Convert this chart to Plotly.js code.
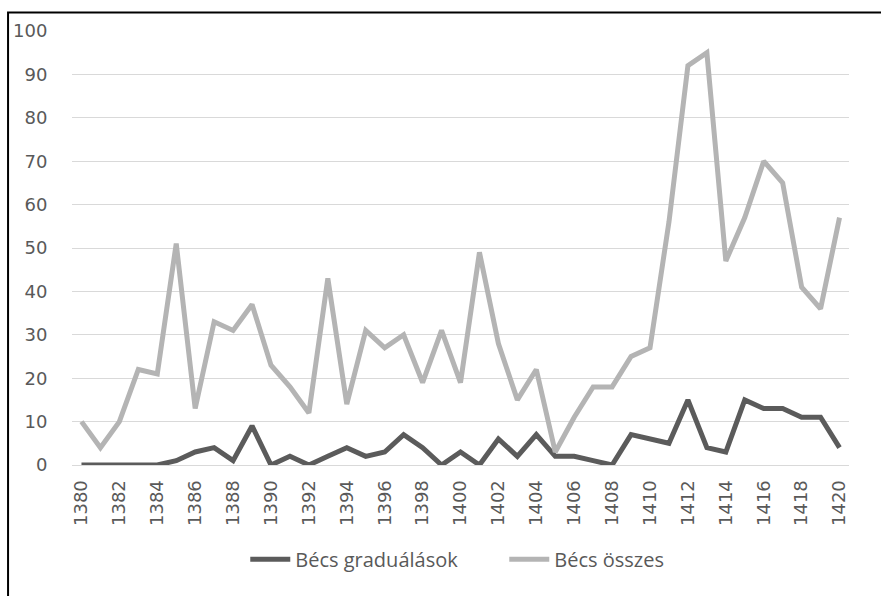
<!DOCTYPE html>
<html>
<head>
<meta charset="utf-8">
<script src="https://cdn.plot.ly/plotly-3.0.1.min.js"></script>
<style>html,body{margin:0;padding:0;background:#fff;}#chart{width:881px;height:596px;}</style>
</head>
<body>
<div id="chart"></div>
<script>
const years = [1380,1381,1382,1383,1384,1385,1386,1387,1388,1389,1390,1391,1392,1393,1394,1395,1396,1397,1398,1399,1400,1401,1402,1403,1404,1405,1406,1407,1408,1409,1410,1411,1412,1413,1414,1415,1416,1417,1418,1419,1420];
const graduations = [0,0,0,0,0,1,3,4,1,9,0,2,0,2,4,2,3,7,4,0,3,0,6,2,7,2,2,1,0,7,6,5,15,4,3,15,13,13,11,11,4];
const totals = [10,4,10,22,21,51,13,33,31,37,23,18,12,43,14,31,27,30,19,31,19,49,28,15,22,3,11,18,18,25,27,56,92,95,47,57,70,65,41,36,57];
const seriesNames = ['Bécs graduálások','Bécs összes'];
const tickYears = years.filter(y => y % 2 === 0);

const traces = [
  {x: years, y: graduations, name: seriesNames[0], type: 'scatter', mode: 'lines',
   line: {color: '#5b5b5b', width: 5, shape: 'linear'}},
  {x: years, y: totals, name: seriesNames[1], type: 'scatter', mode: 'lines',
   line: {color: '#b4b4b4', width: 5}}
];

const layout = {
  width: 881, height: 596,
  margin: {l: 71.5, r: 31.5, t: 31, b: 131},
  paper_bgcolor: '#ffffff', plot_bgcolor: '#ffffff',
  showlegend: true,
  legend: {orientation: 'h', x: 0.2230, xanchor: 'left', y: -0.217, yanchor: 'middle',
    entrywidth: 204, entrywidthmode: 'pixels',
    font: {family: 'Open Sans, sans-serif', size: 20, color: '#595959'}, itemwidth: 40, tracegroupgap: 0},
  xaxis: {
    range: [1379.5, 1420.5], tickmode: 'array', tickvals: tickYears, ticktext: tickYears.map(String),
    tickangle: -90, showgrid: false, zeroline: false, showline: true, linecolor: '#d9d9d9', linewidth: 1,
    ticks: 'outside', ticklen: 7, tickcolor: 'rgba(0,0,0,0)',
    tickfont: {family: 'DejaVu Sans, sans-serif', size: 18, color: '#595959'}
  },
  yaxis: {
    range: [0, 100], tickmode: 'array', tickvals: [0,10,20,30,40,50,60,70,80,90,100],
    showgrid: true, gridcolor: '#d9d9d9', gridwidth: 1, zeroline: false, showline: false,
    ticks: 'outside', ticklen: 20, tickcolor: 'rgba(0,0,0,0)',
    tickfont: {family: 'DejaVu Sans, sans-serif', size: 18, color: '#595959'}
  },
  shapes: [
    {type: 'rect', xref: 'paper', yref: 'paper', x0: -0.0823, x1: 1.2, y0: -0.6, y1: 1.0426,
     line: {color: '#000000', width: 2}, fillcolor: 'rgba(0,0,0,0)', layer: 'above'}
  ]
};

Plotly.newPlot('chart', traces, layout, {displayModeBar: false, staticPlot: true});
</script>
</body>
</html>
